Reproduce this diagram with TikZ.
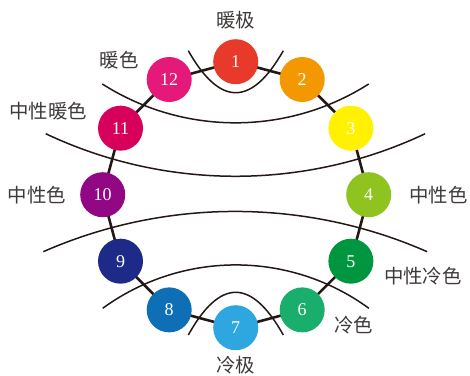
\documentclass[tikz,border=0pt]{standalone}
\usepackage{fontspec}
\usetikzlibrary{calc}
\newfontfamily\cjk{Noto Sans CJK SC}
\newfontfamily\numfont{Liberation Serif}
\definecolor{c1}{HTML}{E83A2A}
\definecolor{c2}{HTML}{F39800}
\definecolor{c3}{HTML}{FFF100}
\definecolor{c4}{HTML}{8FC31F}
\definecolor{c5}{HTML}{009640}
\definecolor{c6}{HTML}{19AE6C}
\definecolor{c7}{HTML}{2EA7E0}
\definecolor{c8}{HTML}{0F6FB6}
\definecolor{c9}{HTML}{1D2A87}
\definecolor{c10}{HTML}{920783}
\definecolor{c11}{HTML}{D7005A}
\definecolor{c12}{HTML}{E4197A}
\definecolor{ink}{HTML}{231815}
\definecolor{txt}{HTML}{3E3A39}
\tikzset{
  hue/.style={circle, fill=#1, minimum size=45pt, inner sep=0pt, text=white, font=\numfont\fontsize{18}{18}\selectfont},
  ring/.style={draw=ink, line width=2.6pt},
  divider/.style={draw=ink, line width=1.5pt},
  lab/.style={text=txt, font=\cjk\fontsize{19.4}{20}\selectfont, inner sep=0pt}
}
\begin{document}
\begin{tikzpicture}[x=1pt,y=1pt]
\useasboundingbox (0,0) rectangle (470,375);
\coordinate (O) at (235.7,180.3);
% dividing curves
\draw[divider] (188.3,324.3) .. controls (220,268.3) and (251.4,268.3) .. (283.3,324.3);
\draw[divider] (188.3,40) .. controls (220,96.9) and (251.4,96.9) .. (283.3,40);
\draw[divider] (102.3,291) arc[start angle=237.5, end angle=302.5, radius=247.9];
\draw[divider] (45.7,241.3) arc[start angle=244.7, end angle=295.3, radius=444];
\draw[divider] (43.3,123.3) arc[start angle=113.7, end angle=66.3, radius=477.5];
\draw[divider] (102.7,66.7) arc[start angle=126.1, end angle=53.9, radius=225.9];
% hue positions
\foreach \i in {1,...,12} {
  \coordinate (p\i) at ($(O)+({90-30*(\i-1)}:133)$);
}
\draw[ring] (p1) -- (p2) -- (p3) -- (p4) -- (p5) -- (p6) -- (p7) -- (p8) -- (p9) -- (p10) -- (p11) -- (p12) -- cycle;
\foreach \i in {1,...,12} {
  \node[hue=c\i] (n\i) at (p\i) {\i};
}
% labels
\node[lab] (t1) at (235.5,355) {暖极};
\node[lab] (t2) at (119,315) {暖色};
\node[lab] (t3) at (48,263.5) {中性暖色};
\node[lab] (t4) at (36.7,180) {中性色};
\node[lab] (t5) at (438.3,180) {中性色};
\node[lab] (t6) at (422.8,98.5) {中性冷色};
\node[lab] (t7) at (353.8,50) {冷色};
\node[lab] (t8) at (235.5,10) {冷极};
\end{tikzpicture}
\end{document}
